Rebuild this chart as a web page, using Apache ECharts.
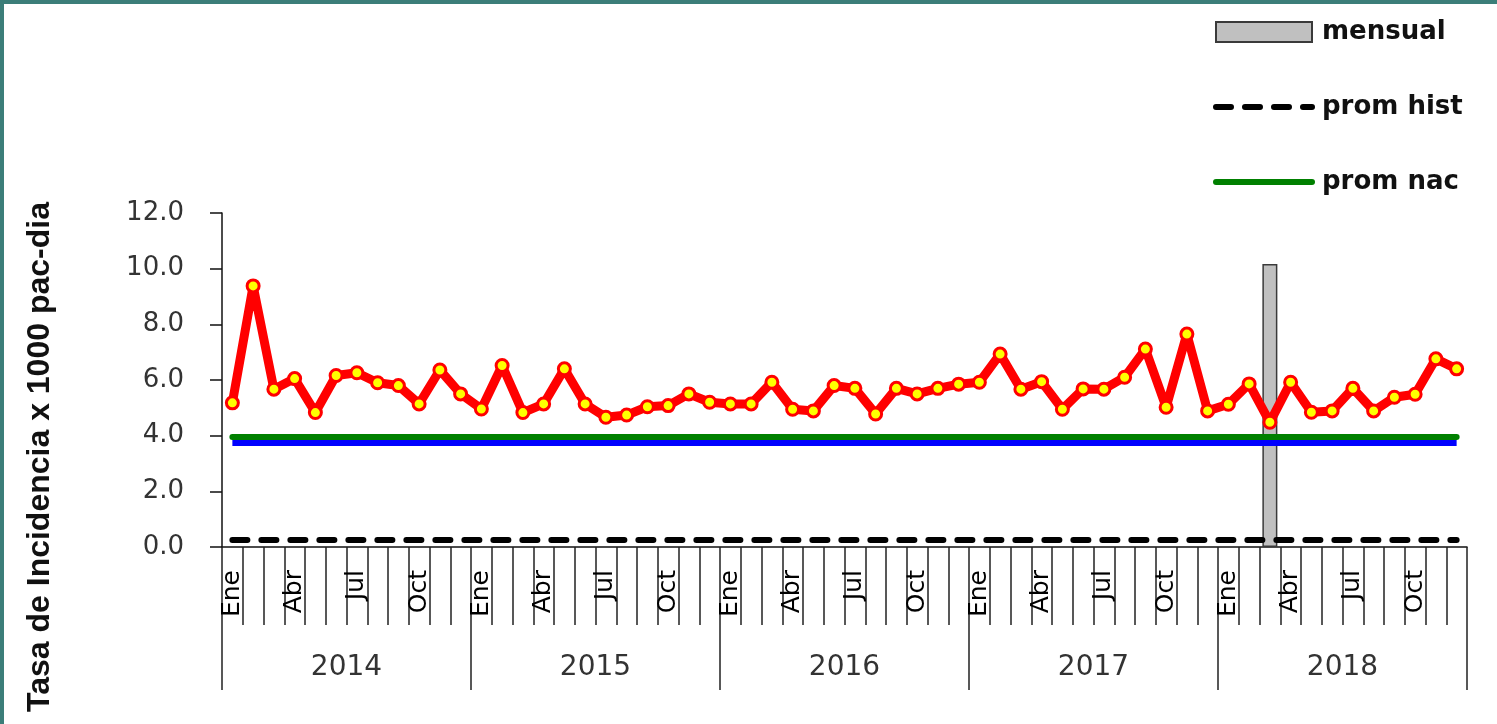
<!DOCTYPE html>
<html>
<head>
<meta charset="utf-8">
<title>Tasa de Incidencia</title>
<script src="https://cdn.jsdelivr.net/npm/echarts@6/dist/echarts.min.js"></script>
<style>
    html, body { margin: 0; padding: 0; background: #fff; }
    #chart { position: absolute; left: 0; top: 0; width: 1497px; height: 724px; }
    /* marco verde azulado de la diapositiva */
    .marco { position: absolute; background: #3c7e79; z-index: 5; }
    #marco-top { left: 0; top: 0; width: 1497px; height: 4px; }
    #marco-left { left: 0; top: 0; width: 4px; height: 724px; }
</style>
</head>
<body>
<div id="chart"></div>
<div class="marco" id="marco-top"></div>
<div class="marco" id="marco-left"></div>
<script>
// años y meses del eje x
const anios = ['2014', '2015', '2016', '2017', '2018'];
const nombresMes = ['Ene', 'Feb', 'Mar', 'Abr', 'May', 'Jun', 'Jul', 'Ago', 'Sep', 'Oct', 'Nov', 'Dic'];

// tasa de incidencia mensual (linea roja)
const tasa2014 = [5.18, 9.38, 5.67, 6.05, 4.83, 6.16, 6.26, 5.90, 5.80, 5.14, 6.36, 5.50];
const tasa2015 = [4.96, 6.52, 4.83, 5.14, 6.40, 5.14, 4.66, 4.74, 5.04, 5.08, 5.50, 5.20];
const tasa2016 = [5.14, 5.14, 5.92, 4.95, 4.89, 5.80, 5.70, 4.78, 5.70, 5.50, 5.70, 5.85];
const tasa2017 = [5.92, 6.93, 5.67, 5.94, 4.95, 5.68, 5.67, 6.10, 7.11, 5.02, 7.65, 4.89];
const tasa2018 = [5.13, 5.86, 4.48, 5.92, 4.84, 4.89, 5.70, 4.89, 5.38, 5.49, 6.76, 6.40];

// barra "mensual": solo el mes actual (Mar 2018)
const mensualMes = 'Mar 2018';
const mensualValor = 10.17;

// promedios (lineas horizontales)
const promHist = 0.25;
const promNac = 3.95;
const promAzul = 3.74;

// ticks del eje y
const yMin = 0;
const yMax = 12;
const yPaso = 2;


// entrada
(function () {
    dibujar();
})();


function dibujar() {
    let meses = [];
    anios.forEach(function (a) {
        nombresMes.forEach(function (m) {
            meses.push(m + ' ' + a);
        });
    });
    let tasa = [].concat(tasa2014, tasa2015, tasa2016, tasa2017, tasa2018);
    let mensual = meses.map(m => (m === mensualMes ? mensualValor : null));

    // el circulo de la leyenda de las lineas no se ve
    let sinSimbolo = { color: 'transparent', borderWidth: 0 };

    let option = {
        animation: false,
        backgroundColor: '#ffffff',
        grid: {
            left: 222,
            right: 30,
            top: 213,
            bottom: 177
        },
        legend: {
            data: [
                { name: 'mensual', icon: 'rect' },
                { name: 'prom hist', itemStyle: sinSimbolo, lineStyle: { width: 6 } },
                { name: 'prom nac', itemStyle: sinSimbolo, lineStyle: { width: 6 } }
            ],
            orient: 'vertical',
            left: 1208,
            top: 14,
            itemWidth: 96,
            itemHeight: 20,
            itemGap: 49,
            selectedMode: false,
            textStyle: {
                fontFamily: 'DejaVu Sans',
                fontWeight: 'bold',
                fontSize: 26,
                color: '#111',
                padding: [0, 0, 0, 5]
            }
        },
        graphic: [
            {
                type: 'text',
                x: 40,
                y: 457,
                rotation: Math.PI / 2,
                style: {
                    text: 'Tasa de Incidencia x 1000 pac-dia',
                    font: 'bold 32px "Liberation Sans"',
                    fill: '#111',
                    textAlign: 'center',
                    textVerticalAlign: 'middle'
                }
            }
        ],
        xAxis: [
            {
                type: 'category',
                data: meses,
                boundaryGap: true,
                axisLine: { lineStyle: { color: '#111', width: 1.5 } },
                axisTick: {
                    show: true,
                    interval: 0,
                    length: 78,
                    lineStyle: { color: '#222', width: 1.5 }
                },
                axisLabel: {
                    interval: function (i) {
                        return i % 3 === 0;
                    },
                    formatter: function (v) {
                        return v.split(' ')[0];
                    },
                    rotate: 90,
                    margin: 23,
                    fontFamily: 'DejaVu Sans',
                    fontSize: 25,
                    color: '#000'
                }
            },
            {
                type: 'category',
                data: anios,
                position: 'bottom',
                boundaryGap: true,
                axisLine: { show: false },
                axisTick: {
                    show: true,
                    interval: 0,
                    length: 143,
                    lineStyle: { color: '#222', width: 1.5 }
                },
                axisLabel: {
                    interval: 0,
                    margin: 107,
                    fontFamily: 'DejaVu Sans',
                    fontSize: 28,
                    color: '#333'
                }
            }
        ],
        yAxis: {
            type: 'value',
            min: yMin,
            max: yMax,
            interval: yPaso,
            splitLine: { show: false },
            axisLine: { show: true, lineStyle: { color: '#111', width: 1.5 } },
            axisTick: { show: true, length: 12, lineStyle: { color: '#111', width: 1.5 } },
            axisLabel: {
                margin: 38,
                fontFamily: 'DejaVu Sans',
                fontSize: 26,
                color: '#333',
                formatter: function (v) {
                    return v.toFixed(1);
                }
            }
        },
        series: [
            {
                name: 'mensual',
                type: 'bar',
                data: mensual,
                barWidth: 15,
                itemStyle: {
                    color: '#c0c0c0',
                    borderColor: '#3a3a3a',
                    borderWidth: 1.5
                },
                z: 1
            },
            {
                name: 'azul',
                type: 'line',
                data: meses.map(() => promAzul),
                symbol: 'none',
                lineStyle: { color: '#0000ff', width: 6 },
                z: 2
            },
            {
                name: 'prom nac',
                type: 'line',
                data: meses.map(() => promNac),
                symbol: 'none',
                itemStyle: { color: '#008000' },
                lineStyle: { color: '#008000', width: 6, cap: 'round' },
                z: 3
            },
            {
                name: 'prom hist',
                type: 'line',
                data: meses.map(() => promHist),
                symbol: 'none',
                itemStyle: { color: '#000' },
                lineStyle: { color: '#000', width: 6, type: [15, 14], cap: 'round' },
                z: 4
            },
            {
                name: 'tasa',
                type: 'line',
                data: tasa,
                symbol: 'circle',
                symbolSize: 12,
                lineStyle: { color: '#ff0000', width: 9 },
                itemStyle: {
                    color: '#ffff00',
                    borderColor: '#ff0000',
                    borderWidth: 3
                },
                z: 5
            }
        ]
    };

    let chart = echarts.init(document.getElementById('chart'));
    chart.setOption(option);

    window.onresize = function () {
        chart.resize();
    };
}
</script>
</body>
</html>
